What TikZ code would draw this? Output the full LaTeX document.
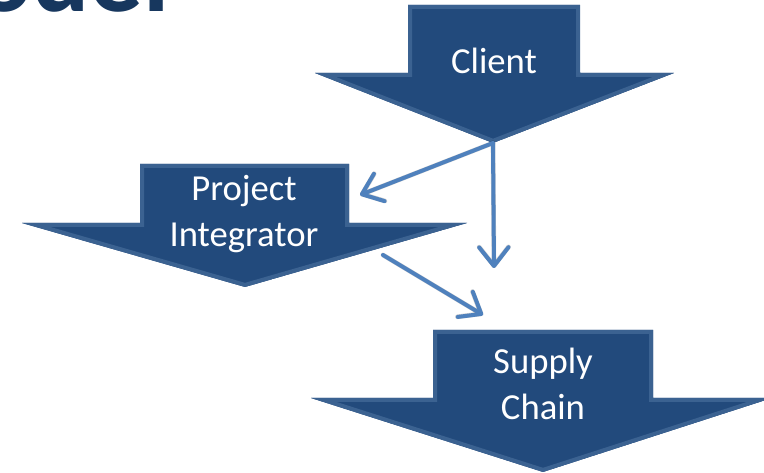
\documentclass[tikz,border=0pt]{standalone}
\usepackage{fontspec}
\setmainfont{Carlito}
\usetikzlibrary{arrows.meta}
\definecolor{navy}{HTML}{224A7C}
\definecolor{navyedge}{HTML}{3B6291}
\definecolor{titleblue}{HTML}{17375E}
\definecolor{linkblue}{HTML}{4F81BD}
% down-pointing block arrow with an inner lighter rim:
% #1,#2 shaft left/right x, #3 top y, #4 shoulder y, #5,#6 head left/right x, #7,#8 tip
\newcommand\DownBlock[8]{%
  \begin{scope}
    \clip (#1,#3) -- (#2,#3) -- (#2,#4) -- (#6,#4) -- (#7,#8) -- (#5,#4) -- (#1,#4) -- cycle;
    \fill[navy] (#1,#3) -- (#2,#3) -- (#2,#4) -- (#6,#4) -- (#7,#8) -- (#5,#4) -- (#1,#4) -- cycle;
    \draw[navyedge,line width=6pt,line join=miter]
      (#1,#3) -- (#2,#3) -- (#2,#4) -- (#6,#4) -- (#7,#8) -- (#5,#4) -- (#1,#4) -- cycle;
  \end{scope}}
\begin{document}
\begin{tikzpicture}[x=0.75pt,y=-0.75pt,
  label/.style={text=white,font=\fontsize{27.5}{34}\selectfont,align=center,inner sep=0pt},
  linkhead/.style={-{Straight Barb[length=14pt,width=22pt,line cap=round,line join=round]}},
  link/.style={draw=linkblue,line width=3pt,line cap=round,linkhead},
  linkshadow/.style={draw=black,opacity=0.18,line width=3.5pt,line cap=round,linkhead,shift={(1.5,2.5)}}
]
\useasboundingbox (0,0) rectangle (764,473);
\clip (0,0) rectangle (764,473);

% heading running off the top edge
\node[anchor=base east,text=titleblue,inner sep=0pt,
  font=\bfseries\fontsize{80}{80}\selectfont] (title) at (170,12) {Model};

% block arrows
\DownBlock{408}{580}{5}{73}{315}{674}{493}{143}
\DownBlock{140}{349}{164}{223}{22}{467}{245}{287}
\DownBlock{433}{653}{330}{398}{311}{772}{543}{472}

% labels
\node[label] (client) at (494,61) {Client};
\node[label] (integrator) at (244,214) {Project\\Integrator};
\node[label] (supply) at (543,384) {Supply\\Chain};

% connector end points
\coordinate (clienttip) at (493,143);
\coordinate (intin) at (360,195);
\coordinate (downend) at (494,268);
\coordinate (intout) at (383,255);
\coordinate (supplyin) at (483,315);

% connectors with soft shadows
\draw[linkshadow] (clienttip) -- (intin);
\draw[linkshadow] (clienttip) -- (downend);
\draw[linkshadow] (intout) -- (supplyin);
\draw[link] (clienttip) -- (intin);
\draw[link] (clienttip) -- (downend);
\draw[link] (intout) -- (supplyin);
\end{tikzpicture}
\end{document}
